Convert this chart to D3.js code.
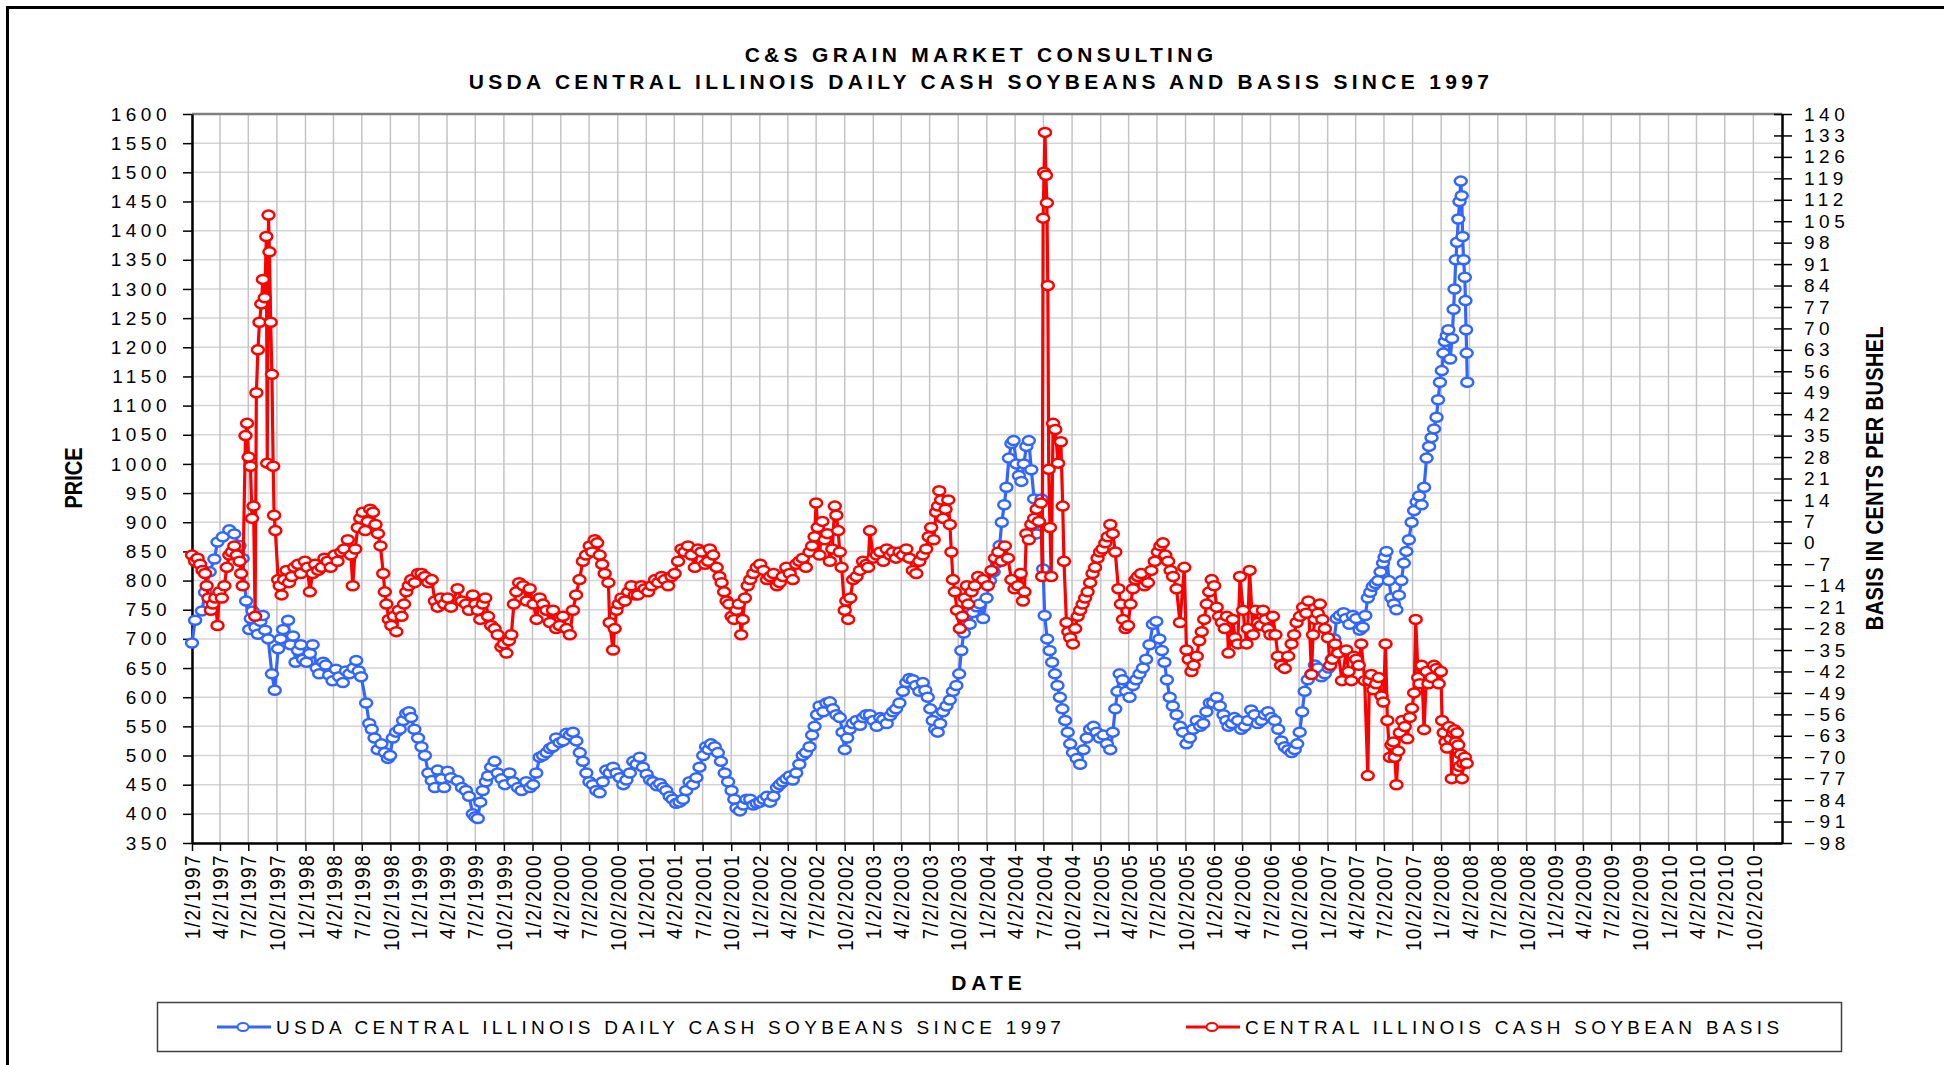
<!DOCTYPE html>
<html>
<head>
<meta charset="utf-8">
<script src="https://cdn.jsdelivr.net/npm/d3@7"></script>
<style>
  body { margin: 0; background: #fff; }
  text { font-family: "Liberation Sans", Arial, sans-serif; fill: #000; }
</style>
</head>
<body>
<div id="root"></div>
<script>
// cash price, cents per bushel
const cashPrice = [
  ["1997-01-02",693],["1997-01-12",732],["1997-02-03",748],["1997-02-13",780],["1997-02-28",815],["1997-03-15",837],["1997-03-25",866],["1997-04-11",875],["1997-05-02",887],["1997-05-18",880],["1997-06-04",860],["1997-06-14",838],["1997-06-25",765],["1997-07-05",716],["1997-07-16",748],["1997-08-02",708],["1997-08-18",740],["1997-09-04",700],["1997-09-16",640],["1997-09-25",612],["1997-10-06",683],["1997-10-22",716],["1997-11-07",732],["1997-11-23",705],["1997-12-09",680],["1997-12-25",665],
  ["1998-01-16",675],["1998-02-07",650],["1998-02-28",660],["1998-03-19",638],["1998-04-10",648],["1998-05-02",625],["1998-05-23",640],["1998-06-14",663],["1998-06-30",635],["1998-07-16",590],["1998-07-26",555],["1998-08-12",530],["1998-09-03",520],["1998-09-24",495],["1998-10-10",530],["1998-11-01",545],["1998-11-22",572],["1998-12-08",565],["1998-12-30",530],
  ["1999-01-21",500],["1999-02-12",457],["1999-03-03",475],["1999-03-24",445],["1999-04-04",473],["1999-05-06",457],["1999-06-02",440],["1999-06-24",400],["1999-07-10",392],["1999-07-26",440],["1999-08-12",465],["1999-09-02",490],["1999-09-24",460],["1999-10-20",470],["1999-11-16",445],["1999-12-13",455],
  ["2000-01-04",450],["2000-01-25",497],["2000-02-16",505],["2000-03-08",515],["2000-03-29",522],["2000-04-20",538],["2000-05-11",540],["2000-06-02",505],["2000-06-23",470],["2000-07-14",450],["2000-08-05",436],["2000-08-26",475],["2000-09-17",480],["2000-10-09",462],["2000-10-30",458],["2000-11-21",490],["2000-12-12",497],
  ["2001-01-03",468],["2001-01-24",455],["2001-02-15",452],["2001-03-07",440],["2001-03-28",425],["2001-04-19",420],["2001-05-10",440],["2001-06-01",450],["2001-06-22",480],["2001-07-13",515],["2001-07-29",520],["2001-08-20",505],["2001-09-11",470],["2001-10-03",440],["2001-10-19",410],["2001-11-10",415],["2001-12-02",425],["2001-12-23",418],
  ["2002-01-14",425],["2002-02-04",420],["2002-02-26",445],["2002-03-17",455],["2002-04-08",465],["2002-04-29",470],["2002-05-20",500],["2002-06-11",515],["2002-06-27",550],["2002-07-13",585],["2002-08-04",590],["2002-08-25",580],["2002-09-16",565],["2002-10-02",510],["2002-10-18",545],["2002-11-09",560],["2002-11-30",565],["2002-12-22",570],
  ["2003-01-13",550],["2003-02-03",562],["2003-02-25",568],["2003-03-16",580],["2003-04-07",610],["2003-04-28",632],["2003-05-19",620],["2003-06-10",625],["2003-06-26",600],["2003-07-12",560],["2003-07-28",540],["2003-08-14",575],["2003-09-05",595],["2003-09-26",620],["2003-10-12",680],["2003-10-28",740],["2003-11-08",725],["2003-11-30",755],["2003-12-21",735],
  ["2004-01-12",800],["2004-02-03",830],["2004-02-19",900],["2004-03-05",960],["2004-03-21",1035],["2004-04-06",1000],["2004-04-22",970],["2004-05-08",1030],["2004-05-24",990],["2004-06-10",880],["2004-06-26",940],["2004-07-06",740],["2004-07-22",680],["2004-08-08",640],["2004-08-24",600],["2004-09-10",560],["2004-09-26",520],["2004-10-17",495],["2004-11-08",510],["2004-11-29",545],["2004-12-20",540],
  ["2005-01-11",535],["2005-02-02",510],["2005-02-18",580],["2005-03-04",640],["2005-03-25",610],["2005-04-16",620],["2005-05-07",640],["2005-05-28",665],["2005-06-19",725],["2005-07-10",700],["2005-07-26",660],["2005-08-12",600],["2005-09-03",570],["2005-09-24",540],["2005-10-16",530],["2005-11-07",560],["2005-11-28",555],["2005-12-19",590],
  ["2006-01-10",600],["2006-02-01",570],["2006-02-17",550],["2006-03-08",565],["2006-03-30",545],["2006-04-21",560],["2006-05-12",570],["2006-06-03",560],["2006-06-24",575],["2006-07-16",560],["2006-08-06",525],["2006-08-28",510],["2006-09-18",510],["2006-10-04",540],["2006-10-20",610],["2006-11-11",640],["2006-12-02",650],["2006-12-24",640],
  ["2007-01-15",665],["2007-01-31",735],["2007-02-22",745],["2007-03-13",725],["2007-04-04",735],["2007-04-25",720],["2007-05-11",770],["2007-05-27",790],["2007-06-13",800],["2007-06-29",830],["2007-07-10",850],["2007-07-26",770],["2007-08-11",750],["2007-08-27",800],["2007-09-12",850],["2007-09-29",900],["2007-10-15",935],["2007-10-31",930],["2007-11-16",1010],["2007-12-02",1045],["2007-12-18",1080],["2007-12-29",1140],
  ["2008-01-09",1190],["2008-01-20",1220],["2008-01-31",1180],["2008-02-11",1265],["2008-02-18",1350],["2008-02-26",1420],["2008-03-05",1485],["2008-03-11",1390],["2008-03-18",1320],["2008-03-22",1230],["2008-03-26",1140],
  // second pass: the other edge of the band between the points above
  ["1997-07-10",735],["1997-07-25",720],["1997-08-10",730],["1997-08-25",715],["1997-10-14",700],["1997-11-15",690],["1997-12-01",660],["1997-12-18",690],
  ["1998-01-05",660],["1998-01-25",690],["1998-02-15",640],["1998-03-08",655],["1998-03-30",628],["1998-04-20",635],["1998-05-12",645],["1998-06-05",650],["1998-06-22",645],["1998-08-03",545],["1998-08-22",510],["1998-09-14",505],["1998-10-01",500],["1998-10-20",540],["1998-11-12",560],["1998-12-01",575],["1998-12-18",545],
  ["1999-01-10",515],["1999-02-01",470],["1999-02-22",445],["1999-03-15",460],["1999-04-15",462],["1999-05-20",445],["1999-06-12",430],["1999-07-02",395],["1999-07-18",420],["1999-08-05",455],["1999-08-22",480],["1999-09-12",470],["1999-10-05",450],["1999-11-01",455],["1999-11-28",440],["1999-12-25",445],
  ["2000-01-14",470],["2000-02-05",500],["2000-02-27",512],["2000-03-18",530],["2000-04-10",525],["2000-05-01",535],["2000-05-22",525],["2000-06-12",490],["2000-07-03",455],["2000-07-25",440],["2000-08-15",455],["2000-09-06",470],["2000-09-28",470],["2000-10-20",450],["2000-11-10",470],["2000-12-02",485],["2000-12-22",480],
  ["2001-01-14",458],["2001-02-05",448],["2001-02-25",445],["2001-03-18",430],["2001-04-08",418],["2001-04-30",425],["2001-05-21",455],["2001-06-12",462],["2001-07-04",500],["2001-07-21",510],["2001-08-10",515],["2001-08-30",490],["2001-09-22",455],["2001-10-12",425],["2001-10-30",405],["2001-11-20",425],["2001-12-12",415],
  ["2002-01-03",420],["2002-01-25",430],["2002-02-15",430],["2002-03-07",450],["2002-03-28",460],["2002-04-18",458],["2002-05-09",485],["2002-05-30",505],["2002-06-19",535],["2002-07-05",570],["2002-07-25",575],["2002-08-15",592],["2002-09-05",570],["2002-09-25",540],["2002-10-10",530],["2002-10-28",555],["2002-11-20",552],["2002-12-10",570],
  ["2003-01-02",560],["2003-01-24",565],["2003-02-14",555],["2003-03-06",575],["2003-03-27",590],["2003-04-18",625],["2003-05-09",630],["2003-05-30",610],["2003-06-18",612],["2003-07-04",580],["2003-07-20",545],["2003-08-05",555],["2003-08-25",585],["2003-09-15",610],["2003-10-05",640],["2003-10-20",710],["2003-11-18",745],["2003-12-10",760],
  ["2004-01-01",770],["2004-01-24",815],["2004-02-12",860],["2004-02-27",930],["2004-03-13",1010],["2004-03-28",1040],["2004-04-14",980],["2004-04-30",1000],["2004-05-16",1040],["2004-06-02",940],["2004-06-18",900],["2004-07-01",820],["2004-07-14",700],["2004-07-30",660],["2004-08-16",620],["2004-09-01",580],["2004-09-18",540],["2004-10-05",505],["2004-10-28",485],["2004-11-18",530],["2004-12-10",550],["2004-12-30",530],
  ["2005-01-22",520],["2005-02-10",540],["2005-02-25",610],["2005-03-14",630],["2005-04-05",600],["2005-04-26",630],["2005-05-18",650],["2005-06-08",690],["2005-06-30",730],["2005-07-18",680],["2005-08-03",630],["2005-08-22",585],["2005-09-14",550],["2005-10-05",520],["2005-10-26",545],["2005-11-18",550],["2005-12-08",575],["2005-12-30",590],
  ["2006-01-20",585],["2006-02-10",560],["2006-02-28",555],["2006-03-20",560],["2006-04-10",550],["2006-05-01",578],["2006-05-22",555],["2006-06-14",570],["2006-07-05",565],["2006-07-27",545],["2006-08-17",515],["2006-09-08",505],["2006-09-26",520],["2006-10-12",575],["2006-10-30",630],["2006-11-22",655],["2006-12-13",635],
  ["2007-01-05",650],["2007-01-23",700],["2007-02-10",740],["2007-03-02",735],["2007-03-24",740],["2007-04-15",715],["2007-05-03",740],["2007-05-19",780],["2007-06-05",795],["2007-06-21",815],["2007-07-04",840],["2007-07-18",800],["2007-08-03",760],["2007-08-19",775],["2007-09-04",830],["2007-09-20",870],["2007-10-07",920],["2007-10-23",945],["2007-11-08",960],["2007-11-24",1030],["2007-12-10",1060],["2007-12-23",1110],
  ["2008-01-04",1160],["2008-01-14",1210],["2008-01-25",1230],["2008-02-06",1215],["2008-02-14",1300],["2008-02-22",1380],["2008-03-01",1450],["2008-03-08",1460],["2008-03-14",1350],["2008-03-20",1280],["2008-03-24",1190]
]

// basis, cents per bushel (right axis)
const cashBasis = [
  ["1997-01-02",-4],["1997-01-12",-6],["1997-01-28",-7],["1997-02-13",-10],["1997-02-24",-18],["1997-03-10",-20],["1997-03-25",-27],["1997-03-31",-16],["1997-04-16",-14],["1997-05-02",-4],["1997-05-18",-1],["1997-06-04",-6],["1997-06-14",-14],["1997-06-23",35],["1997-06-28",39],["1997-07-03",28],["1997-07-09",25],["1997-07-14",8],["1997-07-19",12],["1997-07-24",-24],["1997-07-28",49],["1997-08-02",63],["1997-08-07",72],["1997-08-13",78],["1997-08-18",86],["1997-08-24",80],["1997-08-29",100],["1997-09-01",26],["1997-09-05",107],["1997-09-08",95],["1997-09-12",72],["1997-09-16",55],["1997-09-20",25],["1997-09-23",9],["1997-09-27",4],["1997-10-06",-12],["1997-10-17",-17],["1997-11-02",-9],["1997-11-19",-11],["1997-12-09",-7],["1997-12-31",-6],
  ["1998-01-16",-16],["1998-02-02",-7],["1998-02-23",-8],["1998-03-14",-6],["1998-04-05",-4],["1998-04-27",-3],["1998-05-18",1],["1998-06-03",-14],["1998-06-19",5],["1998-07-05",10],["1998-07-21",7],["1998-08-07",10],["1998-08-23",3],["1998-09-09",-10],["1998-09-19",-20],["1998-10-05",-27],["1998-10-21",-29],["1998-11-07",-24],["1998-11-22",-16],["1998-12-08",-12],["1998-12-30",-10],
  ["1999-01-21",-11],["1999-02-12",-12],["1999-03-03",-21],["1999-03-24",-20],["1999-04-04",-18],["1999-05-06",-15],["1999-06-02",-20],["1999-06-24",-17],["1999-07-10",-22],["1999-07-26",-20],["1999-08-12",-24],["1999-09-02",-28],["1999-09-24",-34],["1999-10-10",-36],["1999-10-26",-30],["1999-11-11",-16],["1999-12-03",-14],["1999-12-24",-15],
  ["2000-01-15",-25],["2000-02-05",-20],["2000-02-27",-26],["2000-03-18",-28],["2000-04-09",-24],["2000-05-01",-30],["2000-05-21",-17],["2000-06-12",-6],["2000-07-04",-1],["2000-07-20",1],["2000-08-05",-4],["2000-08-21",-10],["2000-09-02",-13],["2000-09-06",-26],["2000-09-17",-35],["2000-09-28",-22],["2000-10-14",-18],["2000-11-05",-16],["2000-11-26",-17],["2000-12-17",-14],
  ["2001-01-08",-16],["2001-01-30",-12],["2001-02-20",-11],["2001-03-13",-14],["2001-04-03",-10],["2001-04-25",-2],["2001-05-16",-1],["2001-06-07",-8],["2001-06-28",-3],["2001-07-20",-6],["2001-07-25",-2],["2001-08-16",-8],["2001-09-01",-13],["2001-09-17",-19],["2001-10-03",-24],["2001-10-19",-22],["2001-11-03",-30],["2001-11-15",-18],["2001-12-02",-12],["2001-12-23",-8],
  ["2002-01-14",-9],["2002-02-04",-11],["2002-02-26",-14],["2002-03-17",-11],["2002-04-08",-10],["2002-04-29",-7],["2002-05-20",-5],["2002-06-11",-3],["2002-06-27",2],["2002-07-02",13],["2002-07-13",-4],["2002-07-30",1],["2002-08-15",-6],["2002-08-31",12],["2002-09-11",4],["2002-09-22",-8],["2002-10-02",-22],["2002-10-13",-25],["2002-10-29",-12],["2002-11-20",-9],["2002-12-11",-7],["2002-12-22",4],
  ["2003-01-02",-5],["2003-01-24",-3],["2003-02-14",-2],["2003-03-06",-3],["2003-03-27",-3],["2003-04-18",-2],["2003-05-09",-9],["2003-05-30",-6],["2003-06-21",-2],["2003-07-07",5],["2003-07-23",10],["2003-08-02",17],["2003-08-14",8],["2003-08-31",14],["2003-09-10",-3],["2003-09-21",-16],["2003-10-07",-28],["2003-10-23",-18],["2003-11-03",-20],["2003-11-24",-14],["2003-12-21",-12],
  ["2004-01-17",-9],["2004-02-08",-3],["2004-02-29",-1],["2004-03-21",-12],["2004-04-11",-14],["2004-04-27",-19],["2004-05-08",3],["2004-05-24",6],["2004-06-10",11],["2004-06-24",13],["2004-06-28",-11],["2004-07-01",106],["2004-07-04",121],["2004-07-07",134],["2004-07-10",120],["2004-07-13",111],["2004-07-16",84],["2004-07-19",24],["2004-07-23",5],["2004-07-27",-11],["2004-08-02",39],["2004-08-09",37],["2004-08-18",26],["2004-08-27",33],["2004-09-02",12],["2004-09-06",-6],["2004-09-14",-26],["2004-09-26",-31],["2004-10-12",-28],["2004-10-28",-22],["2004-11-13",-18],["2004-11-29",-13],["2004-12-15",-8],["2004-12-31",-3],
  ["2005-01-17",0],["2005-02-02",6],["2005-02-18",-3],["2005-02-28",-15],["2005-03-15",-25],["2005-03-31",-27],["2005-04-16",-15],["2005-05-02",-11],["2005-05-23",-14],["2005-06-14",-9],["2005-07-05",-3],["2005-07-21",0],["2005-08-07",-6],["2005-08-23",-11],["2005-09-03",-15],["2005-09-14",-26],["2005-09-28",-8],["2005-10-05",-35],["2005-10-21",-42],["2005-11-07",-37],["2005-11-23",-29],["2005-12-09",-20],["2005-12-25",-12],
  ["2006-01-10",-21],["2006-01-27",-26],["2006-02-12",-24],["2006-02-17",-36],["2006-03-03",-25],["2006-03-19",-33],["2006-03-26",-11],["2006-04-05",-22],["2006-04-16",-33],["2006-04-26",-9],["2006-05-07",-30],["2006-05-23",-26],["2006-06-08",-22],["2006-06-24",-28],["2006-07-10",-24],["2006-07-26",-37],["2006-08-17",-41],["2006-09-08",-33],["2006-09-24",-26],["2006-10-15",-21],["2006-11-01",-19],["2006-11-11",-43],["2006-11-22",-25],["2006-12-08",-20],["2006-12-24",-28],
  ["2007-01-10",-40],["2007-01-26",-33],["2007-02-17",-45],["2007-03-03",-35],["2007-03-19",-45],["2007-04-04",-38],["2007-04-20",-33],["2007-05-01",-45],["2007-05-11",-76],["2007-05-22",-43],["2007-06-07",-46],["2007-06-24",-50],["2007-07-07",-33],["2007-07-13",-58],["2007-07-21",-70],["2007-08-01",-65],["2007-08-11",-79],["2007-08-22",-62],["2007-09-07",-60],["2007-09-23",-57],["2007-10-07",-49],["2007-10-12",-25],["2007-10-20",-44],["2007-10-31",-40],["2007-11-08",-61],["2007-11-16",-42],["2007-12-02",-44],["2007-12-18",-41],
  ["2008-01-01",-42],["2008-01-05",-58],["2008-01-16",-65],["2008-01-27",-60],["2008-02-05",-77],["2008-02-13",-61],["2008-02-22",-62],["2008-03-01",-73],["2008-03-09",-77],["2008-03-18",-70],["2008-03-24",-72],
  // second pass: the other edge of the band between the points above
  ["1997-01-20",-5],["1997-02-05",-9],["1997-02-18",-14],["1997-03-04",-22],["1997-03-18",-18],["1997-04-08",-18],["1997-04-24",-8],["1997-05-10",-3],["1997-05-26",-4],["1997-06-09",-10],["1997-10-11",-14],["1997-10-25",-12],["1997-11-10",-13],["1997-11-27",-8],["1997-12-18",-10],
  ["1998-01-08",-8],["1998-01-25",-10],["1998-02-12",-9],["1998-03-04",-5],["1998-03-24",-8],["1998-04-15",-6],["1998-05-06",-2],["1998-05-28",-4],["1998-06-11",-2],["1998-06-27",8],["1998-07-13",4],["1998-07-29",11],["1998-08-15",6],["1998-08-31",-1],["1998-09-14",-16],["1998-09-27",-25],["1998-10-13",-24],["1998-10-29",-22],["1998-11-15",-20],["1998-11-30",-14],["1998-12-19",-13],
  ["1999-01-10",-10],["1999-02-01",-13],["1999-02-22",-19],["1999-03-13",-18],["1999-04-15",-21],["1999-05-20",-19],["1999-06-12",-22],["1999-07-02",-20],["1999-07-18",-25],["1999-08-03",-18],["1999-08-22",-27],["1999-09-12",-30],["1999-10-02",-33],["1999-10-18",-32],["1999-11-03",-20],["1999-11-20",-13],["1999-12-14",-19],
  ["2000-01-05",-20],["2000-01-25",-18],["2000-02-16",-22],["2000-03-08",-22],["2000-03-29",-27],["2000-04-20",-28],["2000-05-11",-22],["2000-06-01",-12],["2000-06-22",-4],["2000-07-12",-3],["2000-07-28",0],["2000-08-13",-7],["2000-09-22",-28],["2000-10-05",-20],["2000-10-25",-19],["2000-11-15",-14],["2000-12-06",-17],["2000-12-28",-15],
  ["2001-01-19",-14],["2001-02-09",-13],["2001-03-02",-12],["2001-03-24",-11],["2001-04-14",-6],["2001-05-05",-3],["2001-05-27",-4],["2001-06-17",-2],["2001-07-10",-7],["2001-08-05",-4],["2001-08-25",-11],["2001-09-09",-16],["2001-09-25",-20],["2001-10-11",-25],["2001-10-26",-20],["2001-11-08",-25],["2001-11-24",-14],["2001-12-12",-10],
  ["2002-01-03",-7],["2002-01-25",-12],["2002-02-15",-10],["2002-03-07",-13],["2002-03-28",-8],["2002-04-18",-12],["2002-05-09",-6],["2002-05-30",-8],["2002-06-19",-1],["2002-07-07",5],["2002-07-22",7],["2002-08-07",3],["2002-08-23",-2],["2002-09-05",9],["2002-09-16",-3],["2002-10-07",-19],["2002-10-20",-18],["2002-11-09",-11],["2002-11-30",-6],["2002-12-16",-8],
  ["2003-01-13",-4],["2003-02-03",-6],["2003-02-25",-4],["2003-03-16",-5],["2003-04-07",-4],["2003-04-28",-5],["2003-05-20",-10],["2003-06-10",-4],["2003-06-29",2],["2003-07-15",1],["2003-07-29",12],["2003-08-08",14],["2003-08-22",11],["2003-09-05",6],["2003-09-15",-12],["2003-09-28",-22],["2003-10-15",-24],["2003-10-30",-14],["2003-11-14",-16],["2003-12-05",-11],
  ["2004-01-05",-14],["2004-01-28",-5],["2004-02-18",-6],["2004-03-10",-5],["2004-03-31",-15],["2004-04-20",-10],["2004-05-02",-16],["2004-05-16",1],["2004-06-02",8],["2004-06-17",7],["2004-09-20",-29],["2004-10-05",-33],["2004-10-20",-24],["2004-11-05",-20],["2004-11-21",-16],["2004-12-07",-10],["2004-12-23",-5],
  ["2005-01-08",-2],["2005-01-25",2],["2005-02-10",3],["2005-03-08",-20],["2005-03-23",-28],["2005-04-08",-20],["2005-04-24",-12],["2005-05-12",-10],["2005-06-03",-13],["2005-06-25",-6],["2005-07-13",-1],["2005-07-29",-4],["2005-08-15",-9],["2005-10-12",-38],["2005-10-28",-40],["2005-11-15",-32],["2005-12-01",-25],["2005-12-17",-16],
  ["2006-01-02",-14],["2006-01-18",-24],["2006-02-05",-28],["2006-03-10",-31],["2006-04-20",-28],["2006-05-15",-22],["2006-06-01",-27],["2006-06-16",-25],["2006-07-02",-30],["2006-07-18",-30],["2006-08-05",-40],["2006-08-28",-37],["2006-09-16",-30],["2006-10-05",-24],["2006-10-25",-23],["2006-11-16",-30],["2006-12-01",-23],["2006-12-16",-25],
  ["2007-01-03",-31],["2007-01-18",-38],["2007-02-05",-36],["2007-03-10",-42],["2007-03-27",-37],["2007-04-12",-40],["2007-05-16",-45],["2007-05-29",-48],["2007-06-15",-44],["2007-06-30",-52],["2007-07-26",-66],["2007-08-06",-70],["2007-08-17",-68],["2007-08-30",-58],["2007-09-15",-64],["2007-09-30",-54],["2007-10-25",-46],["2007-11-22",-46],["2007-12-10",-40],["2007-12-25",-46],
  ["2008-01-10",-62],["2008-01-21",-67],["2008-02-01",-64],["2008-02-09",-62],["2008-02-18",-65],["2008-02-26",-66],["2008-03-05",-69],["2008-03-13",-72]
]

// axis ticks
const tickYears = d3.range(1997, 2011)
const tickMonths = [1, 4, 7, 10]
const priceTicks = d3.range(350, 1601, 50)
const basisTicks = d3.range(-98, 141, 7)

const titleLines = ["C&S GRAIN MARKET CONSULTING", "USDA CENTRAL ILLINOIS DAILY CASH SOYBEANS AND BASIS SINCE 1997"]
const legendNames = ["USDA CENTRAL ILLINOIS DAILY CASH SOYBEANS SINCE 1997", "CENTRAL ILLINOIS CASH SOYBEAN BASIS"]

const blue = "#3366ff", red = "#ff0000"
const w = 1944, h = 1065
const plot = {left: 192, right: 1782, top: 114, bottom: 843}

const parse = d3.timeParse("%Y-%m-%d")
const byDate = (a, b) => d3.ascending(a[0], b[0])
const tickDates = []
tickYears.forEach(y => tickMonths.forEach(m => tickDates.push(new Date(y, m - 1, 2))))

//scales
const x = d3.scaleTime()
    .domain([new Date(1997, 0, 2), new Date(2011, 0, 2)])
    .range([plot.left, plot.right])
const yPrice = d3.scaleLinear().domain([350, 1600]).range([plot.bottom, plot.top])
const yBasis = d3.scaleLinear().domain([-98, 140]).range([plot.bottom, plot.top])

const svg = d3.select("#root").append("svg")
    .attr("width", w)
    .attr("height", h)

// outer chart frame (runs off the page at right and bottom)
svg.append("rect")
    .attr("x", 7.5).attr("y", 7.5)
    .attr("width", 2000).attr("height", 1100)
    .attr("fill", "none").attr("stroke", "#000").attr("stroke-width", 3)

// titles
svg.selectAll("text.title").data(titleLines).enter().append("text")
    .attr("class", "title")
    .attr("x", 981)
    .attr("y", (d, i) => i == 0 ? 62 : 89)
    .attr("text-anchor", "middle")
    .attr("font-size", 21).attr("font-weight", "bold")
    .attr("letter-spacing", 4.3)
    .text(d => d)

// gridlines
svg.append("g").selectAll("line").data(priceTicks).enter().append("line")
    .attr("x1", plot.left).attr("x2", plot.right)
    .attr("y1", d => yPrice(d)).attr("y2", d => yPrice(d))
    .attr("stroke", "#d4d4d4").attr("stroke-width", 1.5)

svg.append("g").selectAll("line").data(tickDates).enter().append("line")
    .attr("x1", d => x(d)).attr("x2", d => x(d))
    .attr("y1", plot.top).attr("y2", plot.bottom)
    .attr("stroke", "#c4c4c4").attr("stroke-width", 1.5)

svg.append("line")
    .attr("x1", plot.left).attr("x2", plot.right).attr("y1", plot.top).attr("y2", plot.top)
    .attr("stroke", "#808080").attr("stroke-width", 2.5)

// axes
const xAxis = svg.append("g")
    .attr("transform", `translate(0,${plot.bottom})`)
    .call(d3.axisBottom(x).tickValues(tickDates).tickFormat(d3.timeFormat("%-m/%-d/%Y")).tickSize(8).tickSizeOuter(0))
xAxis.selectAll("text")
    .attr("transform", "rotate(-90) scale(1,1.15)")
    .attr("text-anchor", "end")
    .attr("x", -11).attr("y", 0).attr("dy", "0.35em")
    .attr("font-size", 19).attr("letter-spacing", 1.4)

const yAxisL = svg.append("g")
    .attr("transform", `translate(${plot.left},0)`)
    .call(d3.axisLeft(yPrice).tickValues(priceTicks).tickFormat(d3.format("d")).tickSize(9).tickSizeOuter(0))
yAxisL.selectAll("text")
    .attr("x", -21)
    .attr("font-size", 19).attr("letter-spacing", 4.5)

const yAxisR = svg.append("g")
    .attr("transform", `translate(${plot.right},0)`)
    .call(d3.axisRight(yBasis).tickValues(basisTicks).tickSize(10).tickSizeOuter(0))
yAxisR.selectAll(".tick line").attr("x1", -8)
yAxisR.selectAll("text")
    .attr("x", 22)
    .attr("font-size", 19).attr("letter-spacing", 4.5)

svg.selectAll(".domain").attr("stroke", "#000").attr("stroke-width", 2.5)
svg.selectAll(".tick line").attr("stroke", "#000").attr("stroke-width", 1.5)
svg.selectAll(".tick text").attr("font-family", "'Liberation Sans', Arial, sans-serif").attr("fill", "#000")

// axis titles
svg.append("text")
    .attr("transform", "translate(82,478) rotate(-90) scale(1,1.15)")
    .attr("text-anchor", "middle")
    .attr("font-size", 20).attr("font-weight", "bold")
    .text("PRICE")

svg.append("text")
    .attr("transform", "translate(1883,478) rotate(-90) scale(1,1.15)")
    .attr("text-anchor", "middle")
    .attr("font-size", 20).attr("font-weight", "bold").attr("letter-spacing", 0.4)
    .text("BASIS IN CENTS PER BUSHEL")

svg.append("text")
    .attr("x", 989).attr("y", 990)
    .attr("text-anchor", "middle")
    .attr("font-size", 21).attr("font-weight", "bold").attr("letter-spacing", 5)
    .text("DATE")

// series
function drawSeries(data, yScale, color) {
    data = data.slice().sort(byDate)
    const g = svg.append("g")
    const line = d3.line()
        .x(d => x(parse(d[0])))
        .y(d => yScale(d[1]))
    g.append("path")
        .datum(data)
        .attr("d", line)
        .attr("fill", "none")
        .attr("stroke", color)
        .attr("stroke-width", 3.2)
        .attr("stroke-linejoin", "round")
    g.selectAll("ellipse").data(data).enter().append("ellipse")
        .attr("cx", d => x(parse(d[0])))
        .attr("cy", d => yScale(d[1]))
        .attr("rx", 6).attr("ry", 4.5)
        .attr("fill", "#fff")
        .attr("stroke", color)
        .attr("stroke-width", 2.5)
}

drawSeries(cashPrice, yPrice, blue)
drawSeries(cashBasis, yBasis, red)

// legend
svg.append("rect")
    .attr("x", 157.5).attr("y", 1002.5)
    .attr("width", 1684).attr("height", 49)
    .attr("fill", "#fff").attr("stroke", "#404040").attr("stroke-width", 1.5)

const legendItems = [
    {name: legendNames[0], color: blue, x0: 217},
    {name: legendNames[1], color: red, x0: 1186}
]
const leg = svg.selectAll("g.legend").data(legendItems).enter().append("g")
    .attr("class", "legend")
    .attr("transform", d => `translate(${d.x0},1027)`)
leg.append("line")
    .attr("x1", 0).attr("x2", 54)
    .attr("stroke", d => d.color).attr("stroke-width", 3)
leg.append("ellipse")
    .attr("cx", 26).attr("rx", 5.5).attr("ry", 4)
    .attr("fill", "#fff").attr("stroke", d => d.color).attr("stroke-width", 2)
leg.append("text")
    .attr("x", 59).attr("y", 7)
    .attr("font-size", 19).attr("letter-spacing", 4.3)
    .text(d => d.name)
</script>
</body>
</html>
